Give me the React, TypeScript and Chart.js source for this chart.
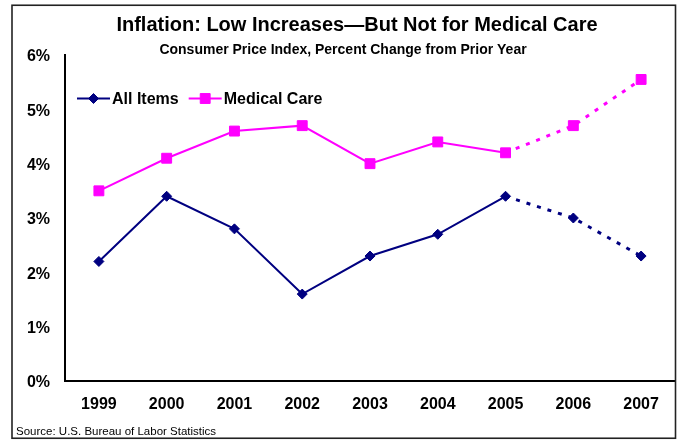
import { useEffect, useRef } from 'react';
import { Chart, registerables } from 'chart.js';

Chart.register(...registerables);

const FONT = "'Liberation Sans', Arial, Helvetica, sans-serif";

// Consumer Price Index, percent change from prior year
const years = ['1999', '2000', '2001', '2002', '2003', '2004', '2005', '2006', '2007'];
const allItems = [2.2, 3.4, 2.8, 1.6, 2.3, 2.7, 3.4, 3.0, 2.3];
const medicalCare = [3.5, 4.1, 4.6, 4.7, 4.0, 4.4, 4.2, 4.7, 5.55];
const yTicks = [0, 1, 2, 3, 4, 5, 6];
// Index of the last actual year (2005); segments after it are projections
const lastActualIndex = 6;

const titleText = 'Inflation: Low Increases\u2014But Not for Medical Care';
const subtitleText = 'Consumer Price Index, Percent Change from Prior Year';
const sourceText = 'Source: U.S. Bureau of Labor Statistics';

const NAVY = '#000080';
const MAGENTA = '#FF00FF';

function drawMarker(ctx: CanvasRenderingContext2D, style: string, x: number, y: number, color: string) {
  ctx.save();
  ctx.fillStyle = color;
  ctx.strokeStyle = color;
  ctx.lineWidth = 1;
  ctx.beginPath();
  if (style === 'rectRot') {
    const r = 5;
    ctx.moveTo(x, y - r);
    ctx.lineTo(x + r, y);
    ctx.lineTo(x, y + r);
    ctx.lineTo(x - r, y);
    ctx.closePath();
  } else {
    const h = 7 * Math.SQRT1_2;
    ctx.rect(x - h, y - h, 2 * h, 2 * h);
  }
  ctx.fill();
  ctx.stroke();
  ctx.restore();
}

const decorations = {
  id: 'decorations',
  beforeDraw(chart: any) {
    const { ctx, width, height } = chart;
    ctx.save();
    ctx.fillStyle = '#ffffff';
    ctx.fillRect(0, 0, width, height);
    ctx.restore();
  },
  afterDraw(chart: any) {
    const ctx: CanvasRenderingContext2D = chart.ctx;
    ctx.save();

    // outer frame
    ctx.strokeStyle = '#222222';
    ctx.lineWidth = 1.6;
    ctx.strokeRect(12, 5.25, 663.5, 433);

    // title and subtitle
    ctx.fillStyle = '#000000';
    ctx.textAlign = 'center';
    ctx.textBaseline = 'alphabetic';
    ctx.font = `bold 20px ${FONT}`;
    ctx.fillText(titleText, 357, 31);
    ctx.font = `bold 14px ${FONT}`;
    ctx.fillText(subtitleText, 343, 53.5);

    // source note
    ctx.textAlign = 'left';
    ctx.font = `11.5px ${FONT}`;
    ctx.fillText(sourceText, 16, 434.5);

    // legend: line sample with marker, then label
    ctx.font = `bold 16px ${FONT}`;
    let x = 77;
    const ly = 98.5;
    chart.data.datasets.forEach((ds: any) => {
      ctx.strokeStyle = ds.borderColor;
      ctx.lineWidth = 2;
      ctx.beginPath();
      ctx.moveTo(x, ly);
      ctx.lineTo(x + 33, ly);
      ctx.stroke();
      drawMarker(ctx, ds.pointStyle, x + 16.5, ly, ds.borderColor);
      ctx.fillStyle = '#000000';
      ctx.fillText(ds.label, x + 35, 104);
      x += 35 + ctx.measureText(ds.label).width + 10;
    });

    ctx.restore();
  },
};

const projected = (ctx: any) => (ctx.p0DataIndex >= lastActualIndex ? [4, 7] : undefined);
const projectedWidth = (ctx: any) => (ctx.p0DataIndex >= lastActualIndex ? 3 : 2);

export default function App() {
  const canvasRef = useRef<HTMLCanvasElement | null>(null);

  useEffect(() => {
    const canvas = canvasRef.current;
    if (!canvas) return;
    const chart = new Chart(canvas, {
      type: 'line',
      data: {
        labels: years,
        datasets: [
          {
            label: 'All Items',
            data: allItems,
            borderColor: NAVY,
            backgroundColor: NAVY,
            borderWidth: 2,
            pointStyle: 'rectRot',
            pointRadius: 5,
            pointBorderWidth: 1,
            tension: 0,
            segment: { borderDash: projected, borderWidth: projectedWidth },
          },
          {
            label: 'Medical Care',
            data: medicalCare,
            borderColor: MAGENTA,
            backgroundColor: MAGENTA,
            borderWidth: 2,
            pointStyle: 'rect',
            pointRadius: 7,
            pointBorderWidth: 1,
            tension: 0,
            segment: { borderDash: projected, borderWidth: projectedWidth },
          },
        ],
      },
      options: {
        responsive: false,
        animation: false,
        layout: { autoPadding: false, padding: { left: 0, right: 2, top: 55, bottom: 0 } },
        plugins: {
          legend: { display: false },
          title: { display: false },
          tooltip: { enabled: false },
        },
        scales: {
          x: {
            offset: true,
            grid: { display: false, drawTicks: false },
            border: { display: true, color: '#000000', width: 2 },
            ticks: {
              color: '#000000',
              font: { family: FONT, size: 16, weight: 'bold' },
              padding: 14,
              maxRotation: 0,
            },
            afterFit: (scale: any) => {
              scale.height = 59;
              scale.paddingLeft = 0;
              scale.paddingRight = 0;
            },
          },
          y: {
            min: 0,
            max: 6,
            grid: { display: false, drawTicks: false },
            border: { display: true, color: '#000000', width: 2 },
            afterBuildTicks: (scale: any) => {
              scale.ticks = yTicks.map((v) => ({ value: v }));
            },
            ticks: {
              color: '#000000',
              font: { family: FONT, size: 16, weight: 'bold' },
              padding: 15,
              labelOffset: 2,
              callback: (v: any) => `${v}%`,
            },
            afterFit: (scale: any) => {
              scale.width = 65;
            },
          },
        },
      },
      plugins: [decorations],
    });
    return () => chart.destroy();
  }, []);

  return (
    <div style={{ position: 'fixed', left: 0, top: 0, width: 677, height: 440, background: '#fff' }}>
      <canvas ref={canvasRef} width={677} height={440} style={{ width: 677, height: 440 }} />
    </div>
  );
}
